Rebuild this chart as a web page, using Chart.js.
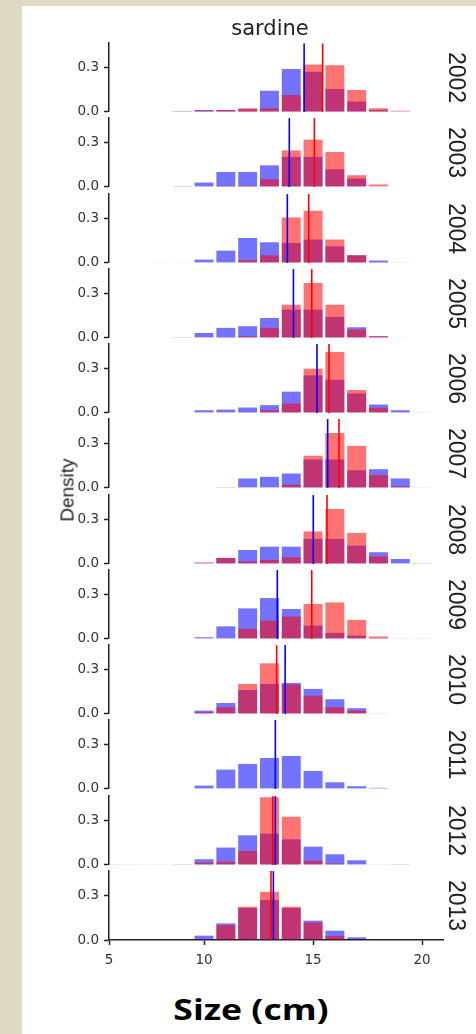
<!DOCTYPE html>
<html>
<head>
<meta charset="utf-8">
<script src="https://cdn.jsdelivr.net/npm/chart.js@4.4.1/dist/chart.umd.min.js"></script>
<style>
    html, body { margin: 0; padding: 0; }
    body { width: 476px; height: 1034px; background: #ddd9c3; position: relative; overflow: hidden; }
    #panel { position: absolute; left: 22px; top: 6px; width: 454px; height: 1028px; background: #fff; }
    canvas.plot { position: absolute; left: 0; }
    #density { position: absolute; left: 67px; top: 490px; transform: translate(-50%, -50%) rotate(-90deg);
        font: 19px "Liberation Sans", Arial, sans-serif; line-height: 1; color: #222; white-space: nowrap; }
    #xlabel { position: absolute; left: 251px; top: 1009px; transform: translate(-50%, -50%) scaleX(1.27);
        font: bold 28px "Open Sans", sans-serif; line-height: 1; color: #000; white-space: nowrap; }
</style>
</head>
<body>
<div id="panel"></div>
<div id="plots"></div>
<div id="density">Density</div>
<div id="xlabel">Size (cm)</div>
<script>
// size classes (cm), one bar per class
const bins = [6, 7, 8, 9, 10, 11, 12, 13, 14, 15, 16, 17, 18, 19, 20];
const years = [2002, 2003, 2004, 2005, 2006, 2007, 2008, 2009, 2010, 2011, 2012, 2013];

// density per size class, blue series
const blueDensity = [
    [0, 0, 0, 0.004, 0.013, 0.012, 0.018, 0.142, 0.287, 0.269, 0.153, 0.069, 0.013, 0, 0],
    [0, 0, 0, 0.005, 0.029, 0.100, 0.100, 0.144, 0.200, 0.200, 0.118, 0.056, 0, 0, 0],
    [0, 0, 0.003, 0.003, 0.022, 0.082, 0.167, 0.138, 0.133, 0.156, 0.111, 0.051, 0.016, 0.004, 0],
    [0, 0, 0, 0.002, 0.033, 0.067, 0.078, 0.133, 0.189, 0.189, 0.140, 0.071, 0.011, 0.003, 0],
    [0, 0, 0, 0, 0.018, 0.022, 0.036, 0.052, 0.142, 0.251, 0.222, 0.130, 0.056, 0.018, 0.004],
    [0, 0, 0, 0, 0, 0.005, 0.063, 0.074, 0.096, 0.190, 0.190, 0.118, 0.125, 0.063, 0.004],
    [0, 0, 0, 0, 0.005, 0.040, 0.093, 0.115, 0.115, 0.167, 0.167, 0.122, 0.078, 0.033, 0.005],
    [0, 0, 0, 0, 0.011, 0.084, 0.204, 0.273, 0.200, 0.089, 0.040, 0.022, 0.005, 0.004, 0.004],
    [0, 0, 0, 0, 0.022, 0.073, 0.160, 0.200, 0.207, 0.167, 0.098, 0.038, 0.004, 0, 0],
    [0, 0, 0, 0, 0.022, 0.129, 0.167, 0.207, 0.220, 0.120, 0.044, 0.018, 0.007, 0, 0],
    [0, 0, 0, 0, 0.038, 0.116, 0.198, 0.209, 0.171, 0.122, 0.071, 0.031, 0.004, 0.002, 0],
    [0, 0, 0, 0, 0.029, 0.111, 0.213, 0.267, 0.213, 0.129, 0.062, 0.018, 0, 0, 0]
];

// density per size class, red series (none in 2011)
const redDensity = [
    [0, 0, 0, 0.004, 0.009, 0.012, 0.025, 0.025, 0.113, 0.318, 0.313, 0.147, 0.025, 0.007, 0],
    [0, 0, 0, 0, 0.003, 0.007, 0.007, 0.051, 0.244, 0.316, 0.233, 0.078, 0.016, 0, 0],
    [0, 0, 0, 0, 0, 0.003, 0.018, 0.051, 0.304, 0.349, 0.156, 0.051, 0.005, 0, 0],
    [0, 0, 0, 0, 0, 0.005, 0.011, 0.067, 0.222, 0.367, 0.222, 0.056, 0.011, 0, 0],
    [0, 0, 0, 0, 0, 0, 0.005, 0.018, 0.063, 0.296, 0.407, 0.153, 0.034, 0.003, 0],
    [0, 0, 0, 0, 0, 0, 0, 0, 0.022, 0.215, 0.367, 0.281, 0.085, 0.011, 0],
    [0, 0, 0, 0, 0.010, 0.040, 0.018, 0.027, 0.044, 0.217, 0.367, 0.207, 0.051, 0.003, 0],
    [0, 0, 0, 0, 0, 0.003, 0.067, 0.122, 0.149, 0.233, 0.244, 0.127, 0.016, 0, 0],
    [0, 0, 0, 0, 0.011, 0.044, 0.200, 0.338, 0.196, 0.122, 0.044, 0.022, 0, 0, 0],
    null,
    [0.002, 0.004, 0.004, 0.005, 0.016, 0.022, 0.093, 0.453, 0.322, 0.027, 0.009, 0, 0, 0, 0],
    [0, 0, 0, 0, 0.005, 0.100, 0.222, 0.322, 0.222, 0.116, 0.027, 0, 0, 0, 0]
];

// mean size lines
const blueMean = [14.59, 13.91, 13.82, 14.10, 15.18, 15.67, 15.01, 13.36, 13.72, 13.27, 13.27, 13.18];
const redMean = [15.44, 15.06, 14.80, 14.94, 15.73, 16.19, 15.64, 14.94, 13.33, null, 13.15, 13.07];

const yTicks = [0, 0.3];
const xTicks = [10, 15, 20];
const xTickLabels = ['5', '10', '15', '20'];

const X_MIN = 5.64, X_MAX = 20.96, Y_MAX = 0.46;
const BLUE = 'rgba(0, 0, 255, 0.55)', RED = 'rgba(255, 0, 0, 0.55)';
const AXIS = '#222', TICK_TXT = '#333';
const tickFont = { family: 'DejaVu Sans', size: 13.5 };

function buildPanel(i) {
    const first = i === 0, last = i === years.length - 1;
    const areaTop = Math.round(43 + 75.25 * i);
    const padTop = first ? 0 : 13;
    const above = first ? 43 : padTop;
    const below = last ? 30 : 13;

    const canvas = document.createElement('canvas');
    canvas.className = 'plot';
    canvas.width = 476;
    canvas.height = above + 69 + below;
    canvas.style.top = (areaTop - above) + 'px';
    document.getElementById('plots').appendChild(canvas);

    const datasets = [];
    if (blueMean[i] != null) datasets.push({ type: 'line', data: [{ x: blueMean[i], y: 0 }, { x: blueMean[i], y: Y_MAX }],
        borderColor: '#0000ff', borderWidth: 1.6, pointRadius: 0, order: 0 });
    if (redMean[i] != null) datasets.push({ type: 'line', data: [{ x: redMean[i], y: 0 }, { x: redMean[i], y: Y_MAX }],
        borderColor: '#ff0000', borderWidth: 1.6, pointRadius: 0, order: 0 });
    if (redDensity[i]) datasets.push({ type: 'bar', data: bins.map((b, k) => ({ x: b, y: redDensity[i][k] })),
        backgroundColor: RED, borderWidth: 0, grouped: false, categoryPercentage: 1, barPercentage: 0.87, order: 1 });
    datasets.push({ type: 'bar', data: bins.map((b, k) => ({ x: b, y: blueDensity[i][k] })),
        backgroundColor: BLUE, borderWidth: 0, grouped: false, categoryPercentage: 1, barPercentage: 0.87, order: 2 });

    new Chart(canvas.getContext('2d'), {
        type: 'bar',
        data: { datasets },
        options: {
            responsive: false,
            animation: false,
            events: [],
            layout: { padding: { left: 64, right: 0, top: padTop, bottom: last ? 0 : below } },
            plugins: {
                legend: { display: false },
                tooltip: { enabled: false },
                title: {
                    display: first,
                    text: 'sardine',
                    color: '#222',
                    font: { family: 'DejaVu Sans', size: 21, weight: 'normal' },
                    padding: { top: 17, bottom: 1 }
                }
            },
            scales: {
                x: {
                    type: 'linear',
                    display: last,
                    min: X_MIN, max: X_MAX,
                    offset: false,
                    afterBuildTicks: s => { s.ticks = [X_MIN].concat(xTicks).map(v => ({ value: v })); },
                    afterFit: s => { s.height = last ? 30 : 0; },
                    ticks: { color: TICK_TXT, font: tickFont, padding: 7, maxRotation: 0,
                        callback: (v, idx) => xTickLabels[idx] },
                    grid: { offset: false, drawOnChartArea: false, tickLength: 5, tickColor: AXIS, tickWidth: 1.5 },
                    border: { display: true, color: AXIS, width: 1.5 }
                },
                y: {
                    position: 'left',
                    min: 0, max: Y_MAX,
                    afterBuildTicks: s => { s.ticks = yTicks.map(v => ({ value: v })); },
                    afterFit: s => { s.width = 45; },
                    ticks: { color: TICK_TXT, font: tickFont, padding: 5, callback: v => v.toFixed(1) },
                    grid: { drawOnChartArea: false, tickLength: 5, tickColor: AXIS, tickWidth: 1.5 },
                    border: { display: true, color: AXIS, width: 1.5 }
                },
                yr: {
                    position: 'right',
                    afterFit: s => { s.width = 33; },
                    ticks: { display: false },
                    grid: { display: false },
                    border: { display: false },
                    title: { display: true, text: String(years[i]), color: '#222',
                        font: { family: 'Liberation Sans', size: 23 }, padding: { top: 7, bottom: 0 } }
                }
            }
        }
    });
}

years.forEach((y, i) => buildPanel(i));
</script>
</body>
</html>
